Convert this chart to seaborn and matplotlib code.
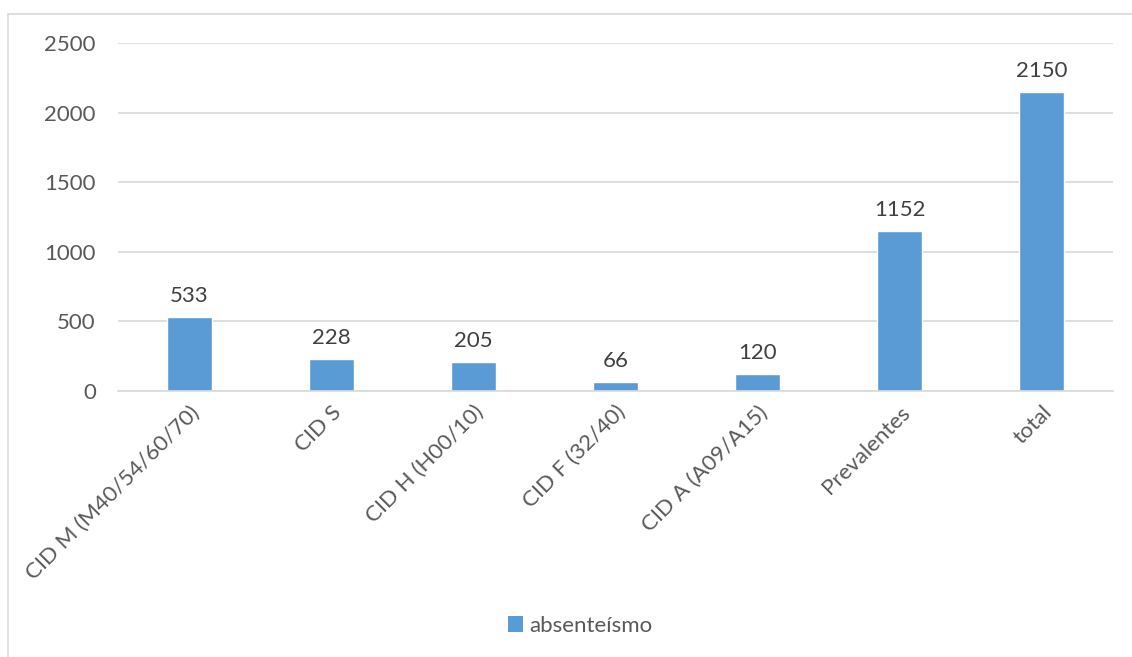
import matplotlib
matplotlib.use("Agg")
import matplotlib.pyplot as plt
import seaborn as sns
import pandas as pd
from matplotlib.patches import Rectangle, Patch

categories = ["CID M (M40/54/60/70)", "CID S", "CID H (H00/10)", "CID F (32/40)",
              "CID A (A09/A15)", "Prevalentes", "total"]
values = [533, 228, 205, 66, 120, 1152, 2150]
series_name = "absenteísmo"
yticks = [0, 500, 1000, 1500, 2000, 2500]

sns.set_theme(style="white")
plt.rcParams['font.family'] = ['Lato', 'DejaVu Sans']

df = pd.DataFrame({"cat": categories, "val": values})

fig = plt.figure(figsize=(11.32, 6.57), dpi=100)
ax = fig.add_axes([118/1132, 1-391/657, (1113-118)/1132, (391-43)/657])

bar_color = "#5B9BD5"
fs = 16
sns.barplot(data=df, x="cat", y="val", color=bar_color, width=0.317,
            saturation=1, ax=ax)

ax.set_ylim(0, 2500)
ax.set_yticks(yticks)
ax.set_yticklabels([str(t) for t in yticks], fontsize=fs, color="#595959")
ax.set_xlim(-0.5, len(categories) - 0.5)
ax.yaxis.grid(True, color="#D9D9D9", linewidth=1.2)
ax.set_axisbelow(True)
for s in ["top", "right", "left"]:
    ax.spines[s].set_visible(False)
ax.spines["bottom"].set_color("#D9D9D9")
ax.spines["bottom"].set_linewidth(1.2)
ax.tick_params(axis="y", length=0, pad=16)
ax.tick_params(axis="x", length=0, pad=8)
ax.set_xlabel("")
ax.set_ylabel("")
ax.set_xticks(range(len(categories)))
ax.set_xticklabels(categories, rotation=45, ha="right", rotation_mode="anchor",
                   fontsize=fs, color="#595959")

for c in ax.containers:
    ax.bar_label(c, labels=[str(v) for v in values], padding=8,
                 fontsize=fs, color="#404040")

# chart border
fig.patches.append(Rectangle((8/1132, -0.1), 1.2, 1 - 14/657 + 0.1,
                             transform=fig.transFigure, fill=False,
                             edgecolor="#D9D9D9", linewidth=1.2))

handle = Patch(facecolor=bar_color, edgecolor="none")
fig.legend([handle], [series_name], loc="center", bbox_to_anchor=(580/1132, 1-626/657),
           frameon=False, fontsize=fs, labelcolor="#595959",
           handlelength=0.7, handleheight=0.7, handletextpad=0.25)

fig.savefig("out.png", dpi=100)
